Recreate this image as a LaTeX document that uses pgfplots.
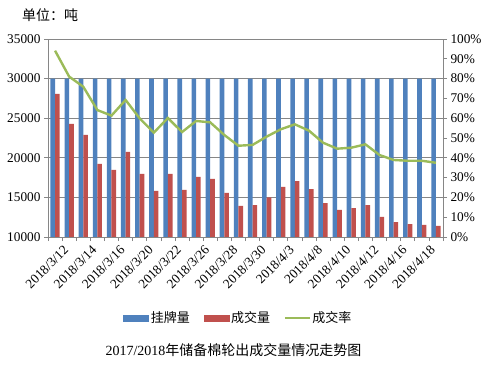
\documentclass[border=0pt]{standalone}
\usepackage{fontspec}
\setmainfont{Liberation Serif}
\newfontfamily\cjk{Noto Sans CJK SC}
\usepackage{pgfplots}
\pgfplotsset{compat=1.18}
\usepackage{pgfplotstable}
\definecolor{cblue}{HTML}{4F81BD}
\definecolor{cred}{HTML}{C0504D}
\definecolor{cgreen}{HTML}{9BBB59}
\definecolor{cgrid}{HTML}{868686}

\pgfplotstableread{
x listed deal rate
0 30000 28060 94.1
1 30000 24270 81.0
2 30000 22880 75.9
3 30000 19220 64.1
4 30000 18460 61.3
5 30000 20740 69.2
6 30000 17960 59.9
7 30000 15810 52.7
8 30000 17960 60.1
9 30000 15940 53.0
10 30000 17580 58.6
11 30000 17330 57.9
12 30000 15560 51.5
13 30000 13920 46.1
14 30000 14040 46.5
15 30000 15010 50.7
16 30000 16320 54.4
17 30000 17070 56.9
18 30000 16060 53.7
19 30000 14290 47.6
20 30000 13410 44.6
21 30000 13660 45.1
22 30000 14040 46.8
23 30000 12530 41.4
24 30000 11890 38.9
25 30000 11640 38.5
26 30000 11520 38.5
27 30000 11390 37.5
}\data

\begin{document}
\begin{tikzpicture}
\useasboundingbox (0,0) rectangle (502pt,377pt);
\pgfplotsset{
  every tick label/.append style={font=\fontsize{13.3}{15}\selectfont},
  /pgf/number format/assume math mode=true,
}
\begin{axis}[
  at={(48pt,140pt)}, anchor=south west, scale only axis,
  width=395pt, height=198pt,
  xmin=-0.5, xmax=27.5, ymin=10000, ymax=35000,
  ybar=0pt, bar width=4.6pt,
  axis y line*=left, axis x line*=bottom,
  axis line style={cgrid, line width=0.7pt, -},
  ytick={10000,15000,...,35000},
  scaled y ticks=false,
  ymajorgrids, grid style={cgrid, line width=0.7pt},
  tick align=outside, major tick length=4pt,
  y tick style={cgrid, line width=0.7pt},
  x tick style={draw=none},
  xtick={0,2,...,26},
  xticklabels={2018/3/12,2018/3/14,2018/3/16,2018/3/20,2018/3/22,2018/3/26,2018/3/28,2018/3/30,2018/4/3,2018/4/8,2018/4/10,2018/4/12,2018/4/16,2018/4/18},
  xticklabel style={rotate=45, anchor=north east, inner sep=1pt, yshift=-7pt, xshift=4pt},
  yticklabel style={/pgf/number format/set thousands separator={}, /pgf/number format/fixed},
]
\addplot[fill=cblue, draw=none] table[x=x, y=listed]{\data};
\addplot[fill=cred, draw=none] table[x=x, y=deal]{\data};
\end{axis}
\begin{axis}[
  at={(48pt,140pt)}, anchor=south west, scale only axis,
  width=395pt, height=198pt,
  xmin=-0.5, xmax=27.5, ymin=0, ymax=100,
  axis y line*=right, axis x line*=bottom,
  axis line style={cgrid, line width=0.7pt, -},
  xtick={-0.5,0.5,...,27.5}, xticklabels={},
  ytick={0,10,...,100},
  yticklabel={\pgfmathprintnumber{\tick}\%},
  tick align=outside, major tick length=4pt,
  tick style={cgrid, line width=0.7pt},
  legend columns=3,
  legend style={at={(0.482,-0.409)}, anchor=center, draw=none, fill=none,
    font=\cjk\fontsize{13}{15}\selectfont,
    /tikz/every even column/.append style={column sep=12pt}},
]
\addlegendimage{legend image code/.code={\fill[cblue] (0pt,-3pt) rectangle (25pt,3pt);}}
\addlegendentry{挂牌量}
\addlegendimage{legend image code/.code={\fill[cred] (0pt,-3pt) rectangle (25pt,3pt);}}
\addlegendentry{成交量}
\addplot[cgreen, line width=2.4pt, no marks, legend image code/.code={\draw[cgreen, line width=1.2pt] (0pt,0pt) -- (25pt,0pt);}] table[x=x, y=rate]{\data};
\addlegendentry{成交率}
\end{axis}
\node[font=\cjk\fontsize{14}{16}\selectfont] at (50pt,362pt) {单位：吨};
\node[font=\fontsize{14}{16}\selectfont] at (233.5pt,27pt) {2017/2018{\cjk 年储备棉轮出成交量情况走势图}};
\end{tikzpicture}
\end{document}
